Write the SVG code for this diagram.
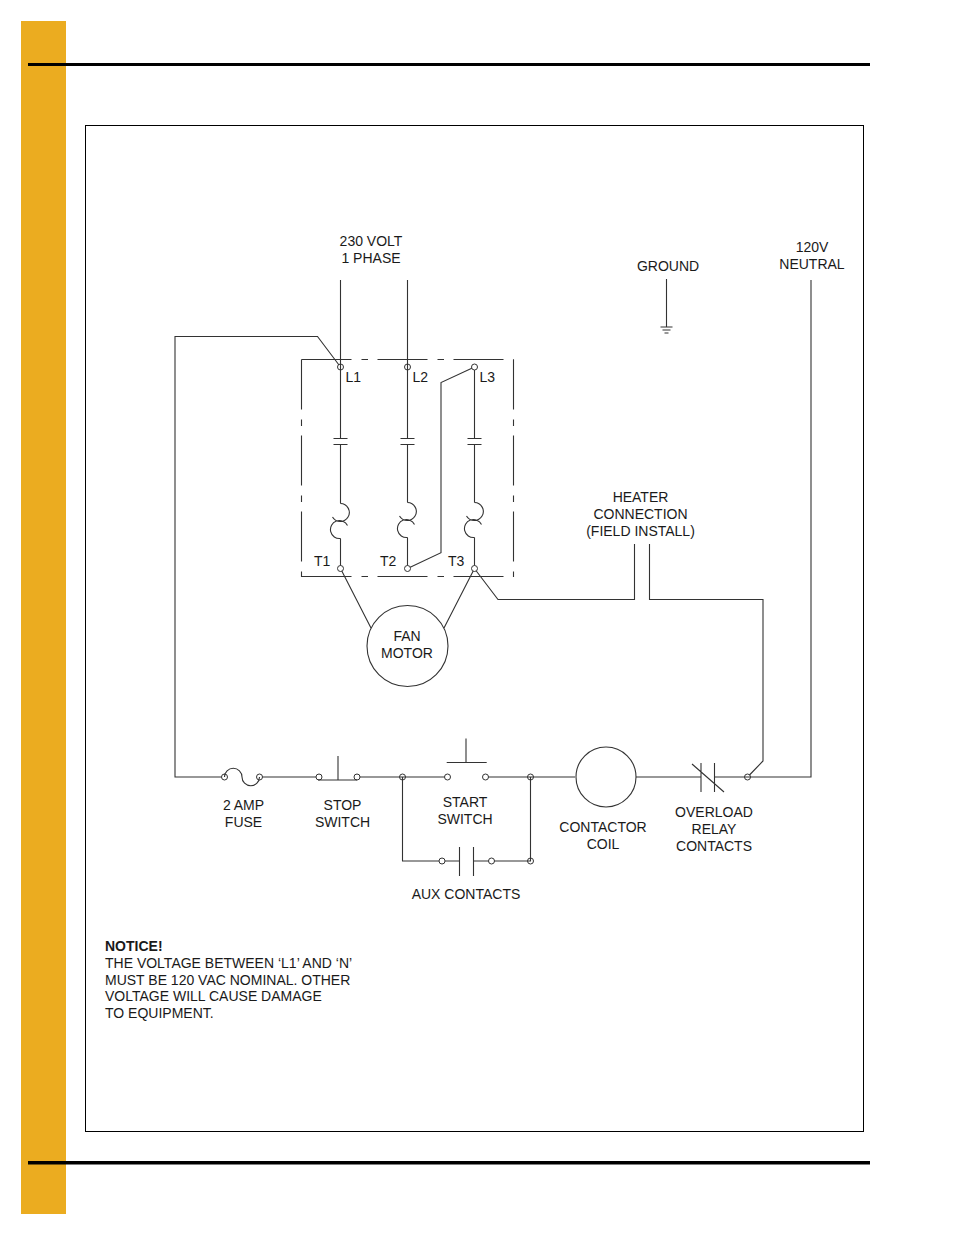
<svg xmlns="http://www.w3.org/2000/svg" width="954" height="1235" viewBox="0 0 954 1235">
<style>
text{font-family:"Liberation Sans",Arial,sans-serif;font-size:14px;fill:#1a1a1a}
.m{text-anchor:middle}
.w{fill:none;stroke:#333;stroke-width:1.1}
.d{fill:none;stroke:#333;stroke-width:1.1;stroke-dasharray:50 10 6.500 9.500}
.t{fill:none;stroke:#333;stroke-width:1}
</style>
<defs><circle id="t" r="3" class="t"/></defs>
<rect width="954" height="1235" fill="#fff"/>
<g id="page">
<rect x="21" y="21" width="45" height="1193" fill="#ebac20"/>
<rect x="28" y="63" width="842" height="3"/>
<rect x="28" y="1161" width="842" height="3.500"/>
<rect x="85.500" y="125.500" width="778" height="1006" fill="none" stroke="#000" stroke-width="1"/>
</g>
<g id="connectors">
<path class="d" d="M301.500 359.500H514"/><path class="d" d="M301.500 359.500V577"/><path class="d" d="M301.500 576.500H514"/><path class="d" d="M513.500 359.500V577"/>
<path class="w" d="M340.500 280V438.500M340.500 444.500V503.500M340.500 538.500V565.500"/>
<path class="w" d="M407.500 280V438.500M407.500 444.500V502.500M407.500 537.500V565.500"/>
<path class="w" d="M474.500 370V438.500M474.500 444.500V502.500M474.500 537.500V565.500"/>
<path class="w" d="M339 365L317.500 336.500H175V777H221.500M262.500 777H316"/>
<path class="w" d="M471.800 368.300L441 382.500V552.700L410.200 567.300"/>
<path class="w" d="M341.800 571L371 628M473.200 571L444 628M476.300 571L498 599.500H634.500V544M649.500 544V599.500H763V761L749.500 775"/>
<path class="w" d="M360 777H444.500M488.500 777H575M636 777H701M714.500 777H811V280"/>
<path class="w" d="M402.500 777V861H439M445 861H459.500M473.500 861H488.500M494.500 861H530.500V777"/>
<path class="w" d="M459.500 847V876M473.500 847V876M701 763V792M714.500 763V792M692 764L724 792"/>
<path class="w" d="M318 780H357M338 780V756M446.700 762.500H486.700M466 762.500V738.500"/>
<path class="w" d="M224.500 777A8.750 8.750 0 0 1 242 777A8.750 8.750 0 0 0 259.500 777"/>
<path class="w" d="M333.500 438.500H347.500M333.500 444.500H347.500M400.500 438.500H414.500M400.500 444.500H414.500M467.500 438.500H481.500M467.500 444.500H481.500"/>
<path class="w" d="M340.500 503.500A9 9 0 1 1 332.500 517M347.500 525.500A9 9 0 1 0 340.500 538.500"/>
<path class="w" d="M407.500 502.500A9 9 0 1 1 399.500 516M414.500 524.500A9 9 0 1 0 407.500 537.500"/>
<path class="w" d="M474.500 502.500A9 9 0 1 1 466.500 516M481.500 524.500A9 9 0 1 0 474.500 537.500"/>
<path class="w" d="M666.500 279V327M660.500 327H672.500M662.500 330H670.500M664.500 333H668.500"/>
<use href="#t" x="340.500" y="367"/><use href="#t" x="407.500" y="367"/><use href="#t" x="474.500" y="367"/>
<use href="#t" x="340.500" y="568.500"/><use href="#t" x="407.500" y="568.500"/><use href="#t" x="474.500" y="568.500"/>
<use href="#t" x="224.500" y="777"/><use href="#t" x="259.500" y="777"/><use href="#t" x="319" y="777"/><use href="#t" x="357" y="777"/>
<use href="#t" x="402.500" y="777"/><use href="#t" x="447.500" y="777"/><use href="#t" x="485.500" y="777"/><use href="#t" x="530.500" y="777"/>
<use href="#t" x="442" y="861"/><use href="#t" x="491.500" y="861"/><use href="#t" x="530.500" y="861"/><use href="#t" x="747.500" y="777"/>
</g>
<g id="fan-motor"><circle class="w" cx="407.500" cy="646" r="40.500"/><text class="m" x="407" y="641">FAN</text><text class="m" x="407" y="658">MOTOR</text></g>
<g id="contactor-coil"><circle class="w" cx="606" cy="777" r="30"/><text class="m" x="603" y="832">CONTACTOR</text><text class="m" x="603" y="849">COIL</text></g>
<g id="labels">
<text class="m" x="371" y="246">230 VOLT</text><text class="m" x="371" y="263">1 PHASE</text>
<text class="m" x="668" y="271">GROUND</text>
<text class="m" x="812" y="252">120V</text><text class="m" x="812" y="269">NEUTRAL</text>
<text x="345.500" y="382">L1</text><text x="412.500" y="382">L2</text><text x="479.500" y="382">L3</text>
<text x="314" y="566">T1</text><text x="380" y="566">T2</text><text x="448" y="566">T3</text>
<text class="m" x="640.500" y="502">HEATER</text><text class="m" x="640.500" y="519">CONNECTION</text><text class="m" x="640.500" y="536">(FIELD INSTALL)</text>
<text class="m" x="243.500" y="810">2 AMP</text><text class="m" x="243.500" y="827">FUSE</text>
<text class="m" x="342.500" y="810">STOP</text><text class="m" x="342.500" y="827">SWITCH</text>
<text class="m" x="465" y="807">START</text><text class="m" x="465" y="824">SWITCH</text>
<text class="m" x="466" y="899">AUX CONTACTS</text>
<text class="m" x="714" y="817">OVERLOAD</text><text class="m" x="714" y="834">RELAY</text><text class="m" x="714" y="851">CONTACTS</text>
</g>
<g id="notice">
<text x="105" y="951" style="font-weight:700">NOTICE!</text>
<text x="105" y="968">THE VOLTAGE BETWEEN ‘L1’ AND ‘N’</text>
<text x="105" y="985">MUST BE 120 VAC NOMINAL. OTHER</text>
<text x="105" y="1001">VOLTAGE WILL CAUSE DAMAGE</text>
<text x="105" y="1018">TO EQUIPMENT.</text>
</g>
</svg>
